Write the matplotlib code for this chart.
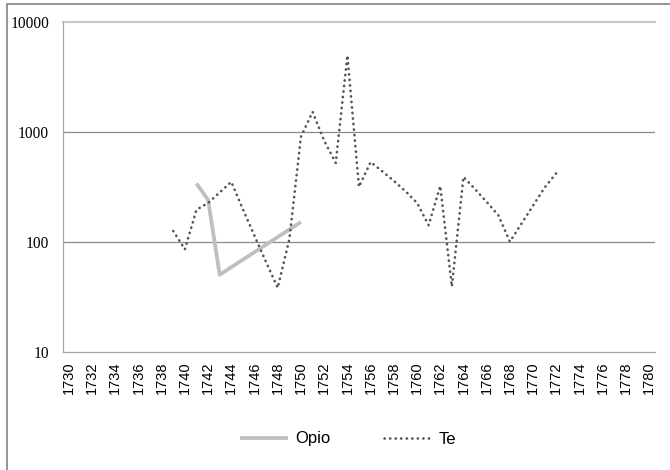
import numpy as np
import matplotlib
matplotlib.use('Agg')
import matplotlib.pyplot as plt
from matplotlib.patches import Rectangle

# years on the category axis
years = list(range(1730, 1781))
tick_years = list(range(1730, 1781, 2))

# Te series, 1739-1772
te_years = list(range(1739, 1773))
te_vals = [125, 85, 195, 225, 280, 350, 197, 113, 65, 38,
           105, 900, 1515, 830, 520, 4950, 315, 530, 437, 357,
           288, 225, 141, 321, 39, 388, 300, 230, 174, 100,
           146, 213, 311, 420]

# Opio series, only a few years with data (gaps are bridged by the line)
opio_years = [1741, 1742, 1743, 1750]
opio_vals = [338, 240, 50, 151]

fig = plt.figure(figsize=(6.7, 4.7), dpi=100)
ax = fig.add_axes([0.094, 0.252, 0.8836, 0.7016])

ax.plot(opio_years, opio_vals, color='#bfbfbf', lw=2.7, solid_capstyle='butt',
        label='Opio', zorder=3)
ax.plot(te_years, te_vals, color='#555555', lw=1.9, linestyle=(0, (0.1, 2.0)),
        dash_capstyle='round', label='Te', zorder=4)

ax.set_yscale('log')
ax.set_ylim(10, 10000)
ax.set_xlim(1729.5, 1780.5)

# gridlines
for g in [100, 1000]:
    ax.axhline(g, color='#8c8c8c', lw=0.9, zorder=1)
ax.axhline(10000, color='#c8c8c8', lw=1.6, zorder=1, clip_on=False)

ax.set_yticks([10, 100, 1000, 10000])
ax.set_yticklabels(['10', '100', '1000', '10000'], family='Liberation Serif', fontsize=11.2)
ax.yaxis.set_minor_locator(matplotlib.ticker.NullLocator())
ax.set_xticks(tick_years)
ax.set_xticklabels([str(y) for y in tick_years], rotation=90,
                   family='Liberation Sans', fontsize=10.5)
ax.tick_params(axis='both', length=0)
ax.tick_params(axis='y', pad=10)
ax.tick_params(axis='x', pad=7)

for s in ['top', 'right']:
    ax.spines[s].set_visible(False)
ax.spines['left'].set_color('#a6a6a6')
ax.spines['bottom'].set_color('#a6a6a6')
ax.spines['left'].set_linewidth(0.9)
ax.spines['bottom'].set_linewidth(0.9)

leg = fig.legend(loc='center', bbox_to_anchor=(348 / 670, 1 - 439 / 470), ncol=2,
                 frameon=False, handlelength=2.9, handletextpad=0.4,
                 columnspacing=3.2, prop={'family': 'Liberation Sans', 'size': 12})

# chart area border
fig.patches.append(Rectangle((7 / 670, -0.05), 1.2, 1 - 4 / 470 + 0.05,
                             transform=fig.transFigure, fill=False,
                             edgecolor='#8c8c8c', lw=1.3))

fig.savefig('out.png', dpi=100)
